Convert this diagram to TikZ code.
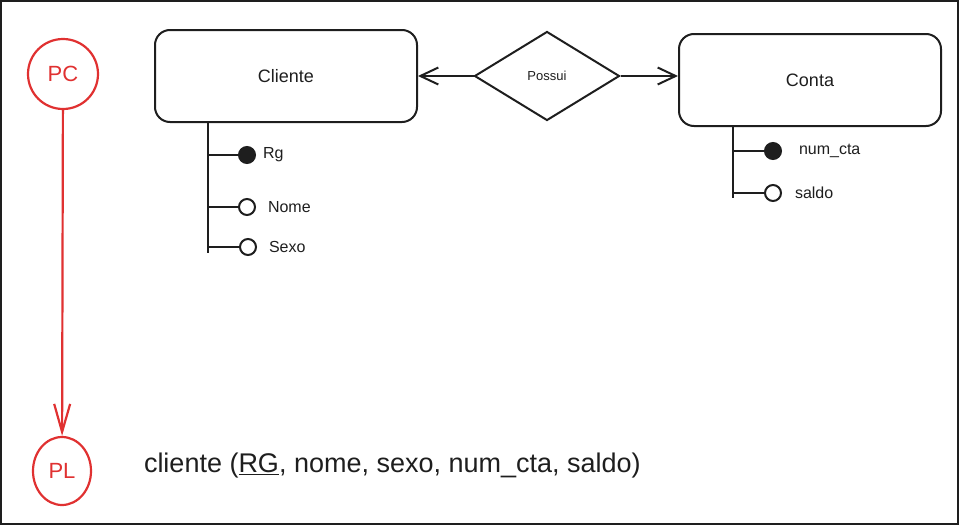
\documentclass[tikz,border=0pt]{standalone}
\usepackage{fontspec}
\setmainfont{Liberation Sans}
\usetikzlibrary{shapes.geometric}
\usetikzlibrary{arrows,arrows.meta}
\usetikzlibrary{positioning}
\definecolor{rot}{RGB}{224,49,49}
\definecolor{tinta}{RGB}{30,30,30}

\begin{document}
\begin{tikzpicture}[x=1pt, y=-1pt, tinta, line width=2pt,
    >={Straight Barb[length=18pt,width=17pt]},
    entidade/.style={draw, rounded corners=15pt, minimum width=262pt, minimum height=92pt, font=\fontsize{18}{20}\selectfont},
    relac/.style={draw, diamond, aspect=1.63, inner sep=0pt, minimum width=145pt, minimum height=89pt, font=\fontsize{13}{15}\selectfont},
    chave/.style={draw, circle, fill=tinta, inner sep=0pt, minimum size=16pt},
    atrib/.style={draw, circle, fill=white, inner sep=0pt, minimum size=16pt},
    rotulo/.style={font=\fontsize{16}{18}\selectfont, inner sep=0pt},
    nivel/.style={draw=rot, text=rot, line width=2.2pt, font=\fontsize{22}{24}\selectfont},
]

% Rahmen
\useasboundingbox (0,0) rectangle (959,525);
\draw[line width=2pt] (1,1) rectangle (958,524);

% PC -> PL
\node[nivel, circle, minimum size=70pt] (pc) at (63,74) {PC};
\node[nivel, ellipse, minimum width=58pt, minimum height=68pt] (pl) at (62,471) {PL};
\draw[rot, -{Straight Barb[length=28pt,width=16pt]}, line width=2.2pt] (pc) -- (pl);

% Entidades
\node[entidade] (cliente) at (286,76) {Cliente};
\node[relac] (possui) at (547,76) {Possui};
\node[entidade] (conta) at (810,80) {Conta};

\draw[->] (possui) -- (cliente);
\draw[->] (possui.east) -- (possui.east -| conta.west);

% Atributos Cliente
\coordinate (cv) at (208,122);
\coordinate (cvend) at (208,253);
\draw (cv) -- (cvend);

\node[chave] (rg) at (247,155) {};
\node[atrib] (nome) at (247,207) {};
\node[atrib] (sexo) at (248,247) {};
\node[rotulo, right=6pt of rg] (rgtxt) {Rg};
\node[rotulo, right=11pt of nome] (nometxt) {Nome};
\node[rotulo, right=11pt of sexo] (sexotxt) {Sexo};

\coordinate (rgpt) at (208,155);
\coordinate (nomept) at (208,207);
\coordinate (sexopt) at (208,247);
\draw (rgpt) -- (rg);
\draw (nomept) -- (nome);
\draw (sexopt) -- (sexo);

% Atributos Conta
\coordinate (kv) at (733,126);
\coordinate (kvend) at (733,198);
\draw (kv) -- (kvend);

\node[chave] (numcta) at (773,151) {};
\node[atrib] (saldo) at (773,193) {};
\node[rotulo, right=16pt of numcta] (numctatxt) {num\_cta};
\node[rotulo, right=12pt of saldo] (saldotxt) {saldo};

\coordinate (numctapt) at (733,151);
\coordinate (saldopt) at (733,193);
\draw (numctapt) -- (numcta);
\draw (saldopt) -- (saldo);

% Modelo logico
\node[anchor=west, inner sep=0pt, font=\fontsize{27}{30}\selectfont] (relacao) at (143,466)
    {cliente (\underline{RG}, nome, sexo, num\_cta, saldo)};

\end{tikzpicture}
\end{document}
